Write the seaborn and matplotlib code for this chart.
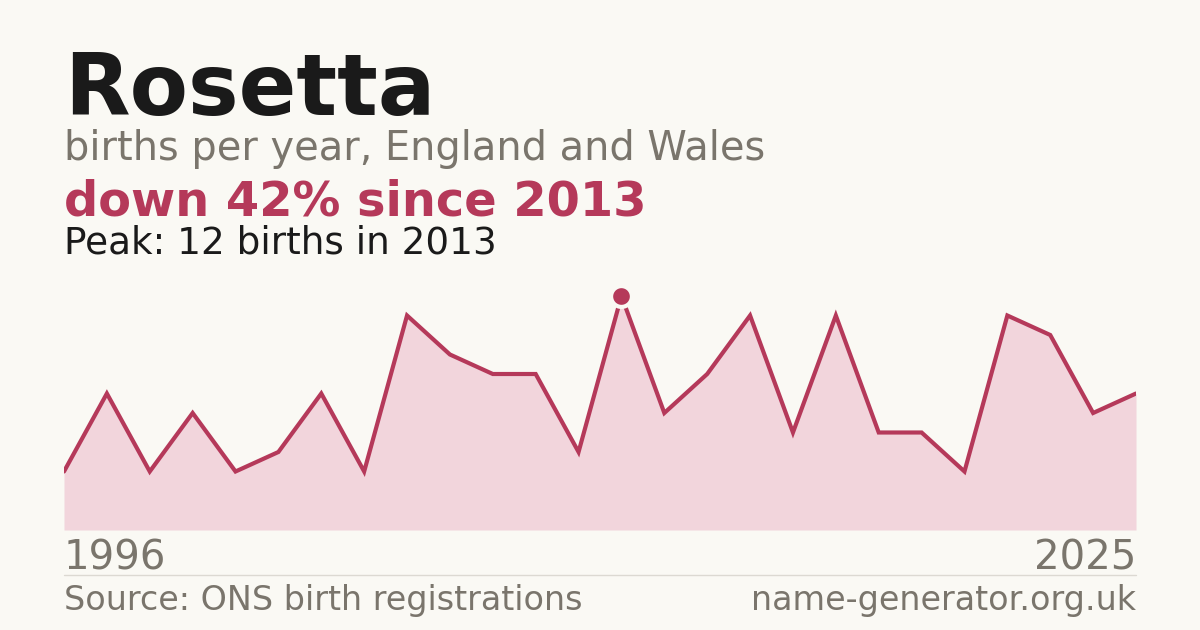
import numpy as np
import matplotlib
matplotlib.use("Agg")
import matplotlib.pyplot as plt
import seaborn as sns

# ------------------------------------------------------------
# Data
# ------------------------------------------------------------
NAME = "Rosetta"
YEAR_START = 1996
YEAR_END = 2025
PEAK_YEAR = 2013
BIRTHS = [3, 7, 3, 6, 3, 4, 7, 3, 11, 9, 8, 8, 4,
          12, 6, 8, 11, 5, 11, 5, 5, 3, 11, 10, 6, 7]

BG = "#faf9f4"
CRIMSON = "#b5395a"
FILL = "#f2d5dc"
GREY = "#7a756c"
DARK = "#1a1a1a"

sns.set_theme(style="white")
plt.rcParams["font.family"] = ["DejaVu Sans"]

idx = np.arange(len(BIRTHS))
peak_i = int(np.argmax(BIRTHS))
peak_v = BIRTHS[peak_i]
drop = round((1 - BIRTHS[-1] / peak_v) * 100)

fig = plt.figure(figsize=(12, 6.3), dpi=100, facecolor=BG)
W, H = 1200, 630
ax = fig.add_axes([64 / W, (H - 530) / H, 1072 / W, 234 / H])
ax.set_facecolor(BG)

ax.fill_between(idx, BIRTHS, 0, color=FILL, linewidth=0)
sns.lineplot(x=idx, y=BIRTHS, ax=ax, color=CRIMSON, linewidth=3.0,
             solid_joinstyle="miter", legend=False)
ax.plot([peak_i], [peak_v], marker="o", markersize=15, markeredgewidth=3,
        color=CRIMSON, markeredgecolor=BG, clip_on=False, zorder=5)

ax.set_xlim(0, len(BIRTHS) - 1)
ax.set_ylim(0, peak_v)
ax.axis("off")

# Text
fig.text(64 / W, 1 - 115 / H, NAME, fontsize=61.3, fontweight="bold", color=DARK)
fig.text(64 / W, 1 - 160 / H, "births per year, England and Wales",
         fontsize=28.7, color=GREY)
fig.text(64 / W, 1 - 215 / H, f"down {drop}% since {PEAK_YEAR}",
         fontsize=34.5, fontweight="bold", color=CRIMSON)
fig.text(64 / W, 1 - 253 / H, f"Peak: {peak_v} births in {PEAK_YEAR}",
         fontsize=26.9, color=DARK)

fig.text(64 / W, 1 - 570 / H, str(YEAR_START), fontsize=29, color=GREY)
fig.text(1136 / W, 1 - 570 / H, str(YEAR_END), fontsize=29, color=GREY, ha="right")
fig.add_artist(plt.Line2D([64 / W, 1136 / W], [1 - 574.5 / H] * 2,
                          color="#dcd9d2", linewidth=1))
fig.text(64 / W, 1 - 610 / H, "Source: ONS birth registrations",
         fontsize=24, color=GREY)
fig.text(1136 / W, 1 - 610 / H, "name-generator.org.uk",
         fontsize=24, color=GREY, ha="right")

fig.savefig("out.png", dpi=100, facecolor=BG)
